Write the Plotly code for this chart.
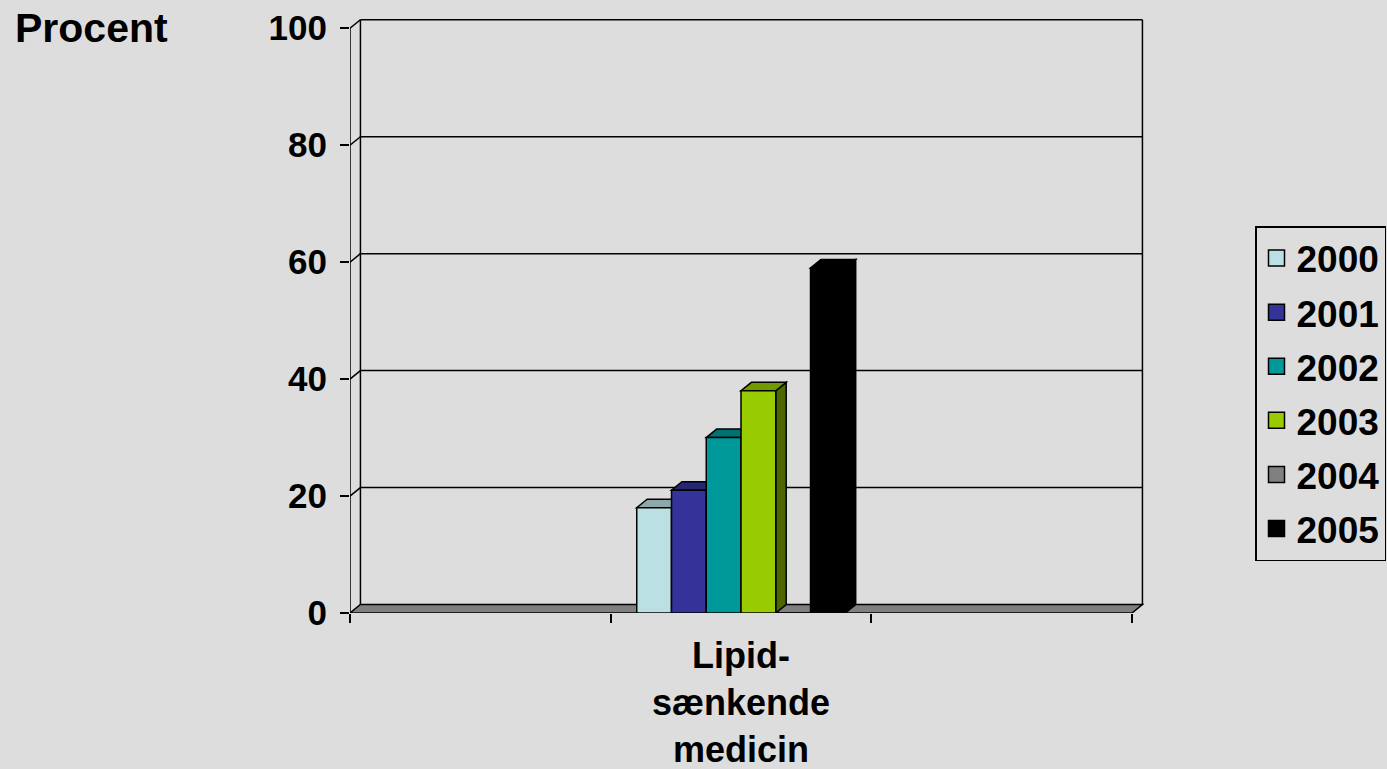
import plotly.graph_objects as go

years = ["2000", "2001", "2002", "2003", "2004", "2005"]
values = [18, 21, 30, 38, 0, 59]
colors = ["#BBE0E3", "#333399", "#009999", "#99CC00", "#808080", "#000000"]
category_label = "Lipid-<br>sænkende<br>medicin"
y_ticks = [0, 20, 40, 60, 80, 100]

FONT = "Liberation Sans, Arial, sans-serif"
DX = 0.04   # depth of the 3D look, in x units
DY = 1.45   # depth of the 3D look, in y units
GROUP = 0.8
CENTER = 2


def shade(hex_color, k):
    r, g, b = (int(hex_color[i:i + 2], 16) for i in (1, 3, 5))
    return "rgb(%d,%d,%d)" % (r * k, g * k, b * k)


fig = go.Figure()
for yr, v, c in zip(years, values, colors):
    fig.add_trace(go.Bar(
        x=[CENTER], y=[v], name=yr, showlegend=False, legendgroup=yr,
        marker=dict(color=c, line=dict(color="black", width=1.5)),
    ))
    fig.add_trace(go.Scatter(
        x=[None], y=[None], mode="markers", name=yr, legendgroup=yr,
        marker=dict(symbol="square", size=20, color=c, line=dict(color="black", width=1.5)),
    ))

shapes = []
line_k = dict(color="black", width=1.5)
x_left, x_right = 0.5, 3.5

# back wall, gridlines and floor
for v in y_ticks[1:]:
    shapes.append(dict(type="line", x0=x_left + DX, x1=x_right + DX, y0=v + DY, y1=v + DY,
                       line=line_k, layer="below"))
    shapes.append(dict(type="line", x0=x_left, x1=x_left + DX, y0=v, y1=v + DY,
                       line=line_k, layer="below"))
shapes.append(dict(type="line", x0=x_left + DX, x1=x_left + DX, y0=DY, y1=100 + DY,
                   line=line_k, layer="below"))
shapes.append(dict(type="line", x0=x_right + DX, x1=x_right + DX, y0=DY, y1=100 + DY,
                   line=line_k, layer="below"))
shapes.append(dict(type="line", x0=x_left, x1=x_left, y0=0, y1=100,
                   line=line_k, layer="below"))
shapes.append(dict(
    type="path", layer="below", fillcolor="#808080", line=line_k,
    path=f"M{x_left},0 L{x_right},0 L{x_right + DX},{DY} L{x_left + DX},{DY} Z",
))

# top and side faces of the bars
w = GROUP / len(values)
for i, (v, c) in enumerate(zip(values, colors)):
    if v == 0:
        continue
    x0 = CENTER - GROUP / 2 + i * w
    x1 = x0 + w
    shapes.append(dict(
        type="path", layer="below", fillcolor=shade(c, 0.5), line=line_k,
        path=f"M{x1},0 L{x1},{v} L{x1 + DX},{v + DY} L{x1 + DX},{DY} Z",
    ))
    shapes.append(dict(
        type="path", layer="below", fillcolor=shade(c, 0.75), line=line_k,
        path=f"M{x0},{v} L{x1},{v} L{x1 + DX},{v + DY} L{x0 + DX},{v + DY} Z",
    ))

fig.update_layout(
    width=1387, height=769,
    margin=dict(l=350, r=243, t=18, b=156),
    paper_bgcolor="#DDDDDD", plot_bgcolor="#DDDDDD",
    barmode="group", bargap=0.2, bargroupgap=0,
    font=dict(family=FONT, size=36, color="black", weight="bold"),
    shapes=shapes,
    xaxis=dict(
        range=[x_left, x_right + DX + 0.006], showgrid=False, zeroline=False, showline=False,
        tickvals=[CENTER], ticktext=[category_label], ticks="", automargin=False,
        tickfont=dict(size=36), ticklabelstandoff=18,
        minor=dict(tickvals=[0.5, 1.5, 2.5, 3.5], ticks="outside", ticklen=9,
                   tickcolor="black", tickwidth=1.5, showgrid=False),
    ),
    yaxis=dict(
        range=[0, 100 + DY + 0.3], showgrid=False, zeroline=False, showline=False,
        tickvals=y_ticks, ticks="outside", ticklen=9, tickcolor="black", tickwidth=1.5,
        tickfont=dict(size=35), ticklabelstandoff=6, automargin=False,
    ),
    legend=dict(
        xref="container", yref="container",
        x=1255 / 1387, y=1 - 226 / 769, xanchor="left", yanchor="top",
        bgcolor="#DDDDDD", bordercolor="black", borderwidth=1.5,
        font=dict(size=37), tracegroupgap=3,
    ),
    annotations=[dict(
        text="Procent", xref="paper", yref="y", x=-0.425, y=100,
        xanchor="left", yanchor="middle", showarrow=False, font=dict(size=41),
    )],
)

fig.write_html("out.html", config={"displayModeBar": False},
               post_script="document.body.style.margin='0';"
                           "document.body.style.background='#DDDDDD';")
